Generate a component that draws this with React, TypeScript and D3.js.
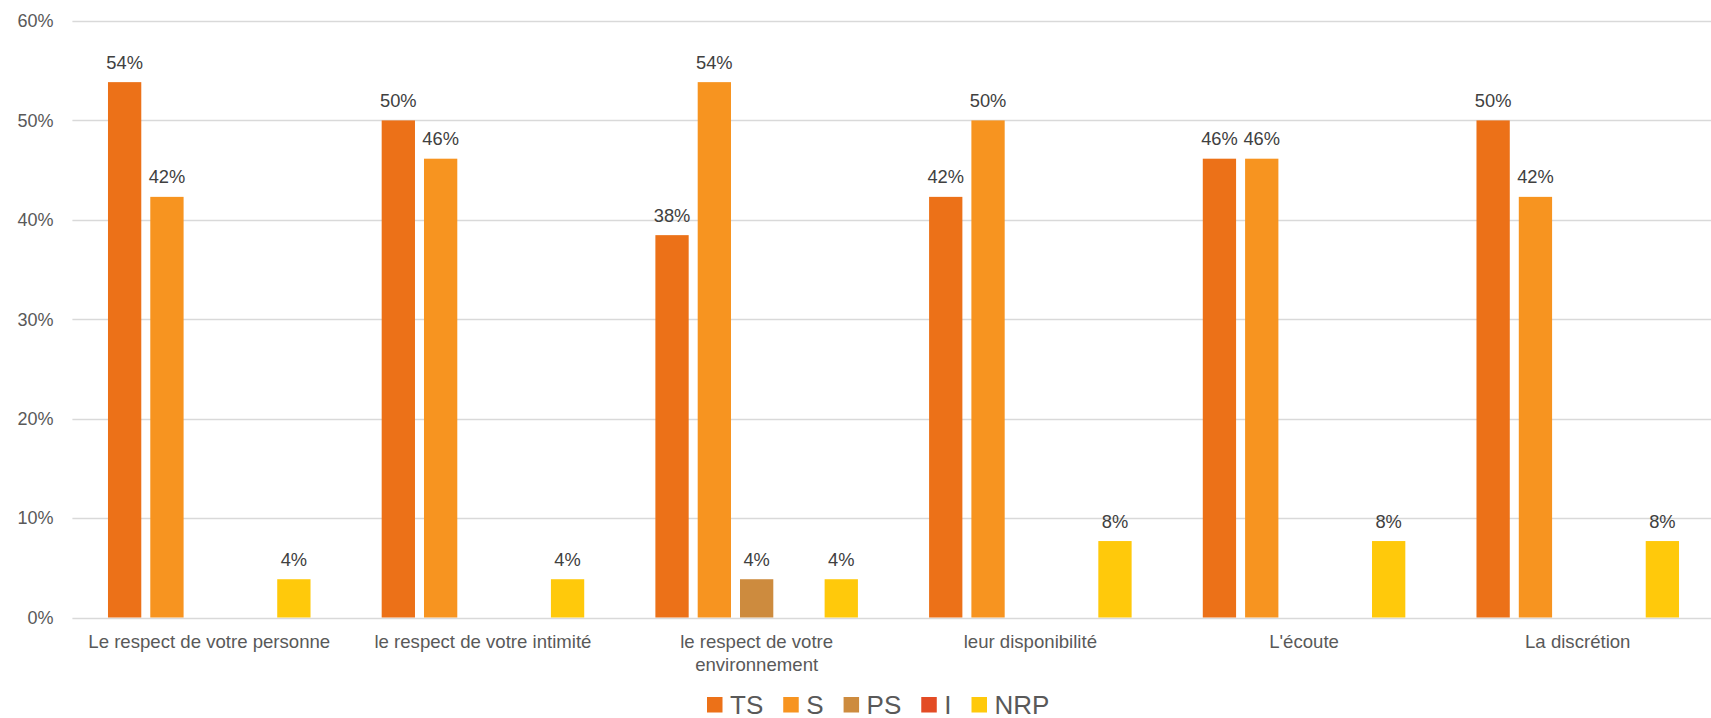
import React, { useEffect, useRef } from "react";
import * as d3 from "d3";

const categories = [
  "Le respect de votre personne",
  "le respect de votre intimité",
  "le respect de votre environnement",
  "leur disponibilité",
  "L'écoute",
  "La discrétion",
];
const seriesNames = ["TS", "S", "PS", "I", "NRP"];
const tsValues = [53.85, 50, 38.46, 42.31, 46.15, 50];
const sValues = [42.31, 46.15, 53.85, 50, 46.15, 42.31];
const psValues = [0, 0, 3.85, 0, 0, 0];
const iValues = [0, 0, 0, 0, 0, 0];
const nrpValues = [3.85, 3.85, 3.85, 7.69, 7.69, 7.69];
const yTicks = [0, 10, 20, 30, 40, 50, 60];
const colors = ["#EC7118", "#F79420", "#CD8B3E", "#E34B24", "#FFC90B"];

const W = 1711;
const H = 718;
const FONT = "'Liberation Sans', Arial, sans-serif";

export default function App() {
  const ref = useRef<SVGSVGElement | null>(null);

  useEffect(() => {
    const svg = d3.select(ref.current);
    svg.selectAll("*").remove();

    const values = [tsValues, sValues, psValues, iValues, nrpValues];
    const y = d3.scaleLinear().domain([0, 60]).range([617.5, 21]);
    const x0 = d3
      .scaleBand<string>()
      .domain(categories)
      .range([72.4, 1714.6])
      .paddingInner(0.26)
      .paddingOuter(0.13);
    const x1 = d3
      .scaleBand<string>()
      .domain(seriesNames)
      .range([0, x0.bandwidth()])
      .paddingInner(0.213)
      .paddingOuter(0);

    // gridlines
    const g = svg.append("g");
    g.selectAll("line.grid")
      .data(yTicks)
      .join("line")
      .attr("x1", 72.4)
      .attr("x2", 1714.6)
      .attr("y1", (d) => Math.round(y(d)) + 0.5)
      .attr("y2", (d) => Math.round(y(d)) + 0.5)
      .attr("stroke", "#D9D9D9")
      .attr("stroke-width", 1.3);

    g.selectAll("text.ytick")
      .data(yTicks)
      .join("text")
      .attr("x", 53.5)
      .attr("y", (d) => y(d) + 6.3)
      .attr("text-anchor", "end")
      .attr("font-family", FONT)
      .attr("font-size", 18)
      .attr("fill", "#595959")
      .text((d) => `${d}%`);

    // bars
    categories.forEach((cat, ci) => {
      seriesNames.forEach((s, si) => {
        const v = values[si][ci];
        if (v <= 0) return;
        const bx = (x0(cat) as number) + (x1(s) as number);
        svg
          .append("rect")
          .attr("x", bx)
          .attr("y", y(v))
          .attr("width", x1.bandwidth())
          .attr("height", y(0) - y(v))
          .attr("fill", colors[si]);
        svg
          .append("text")
          .attr("x", bx + x1.bandwidth() / 2)
          .attr("y", y(v) - 13.5)
          .attr("text-anchor", "middle")
          .attr("font-family", FONT)
          .attr("font-size", 18.3)
          .attr("fill", "#404040")
          .text(`${Math.round(v)}%`);
      });
    });

    // category labels with wrapping
    const maxW = x0.step() - 12;
    categories.forEach((cat) => {
      const cx = (x0(cat) as number) + x0.bandwidth() / 2;
      const t = svg
        .append("text")
        .attr("text-anchor", "middle")
        .attr("font-family", FONT)
        .attr("font-size", 18.6)
        .attr("fill", "#595959");
      const words = cat.split(" ");
      let lines: string[] = [];
      let cur: string[] = [];
      const probe = t.append("tspan");
      words.forEach((w) => {
        const test = [...cur, w].join(" ");
        probe.text(test);
        const len = (probe.node() as SVGTSpanElement).getComputedTextLength();
        if (len > maxW && cur.length) {
          lines.push(cur.join(" "));
          cur = [w];
        } else {
          cur.push(w);
        }
      });
      if (cur.length) lines.push(cur.join(" "));
      probe.remove();
      lines.forEach((ln, i) => {
        t.append("tspan")
          .attr("x", cx)
          .attr("y", 647.5 + i * 23.5)
          .text(ln);
      });
    });

    // legend
    const lg = svg.append("g");
    let lx = 707;
    seriesNames.forEach((s, si) => {
      lg.append("rect")
        .attr("x", lx)
        .attr("y", 697)
        .attr("width", 15.5)
        .attr("height", 15.5)
        .attr("fill", colors[si]);
      const tt = lg
        .append("text")
        .attr("x", lx + 23)
        .attr("y", 713.5)
        .attr("font-family", FONT)
        .attr("font-size", 26)
        .attr("fill", "#595959")
        .text(s);
      const w = (tt.node() as SVGTextElement).getComputedTextLength();
      lx = lx + 23 + w + 20;
    });
  }, []);

  return (
    <svg
      ref={ref}
      width={W}
      height={H}
      style={{ position: "absolute", left: 0, top: 0, background: "#fff" }}
    />
  );
}
